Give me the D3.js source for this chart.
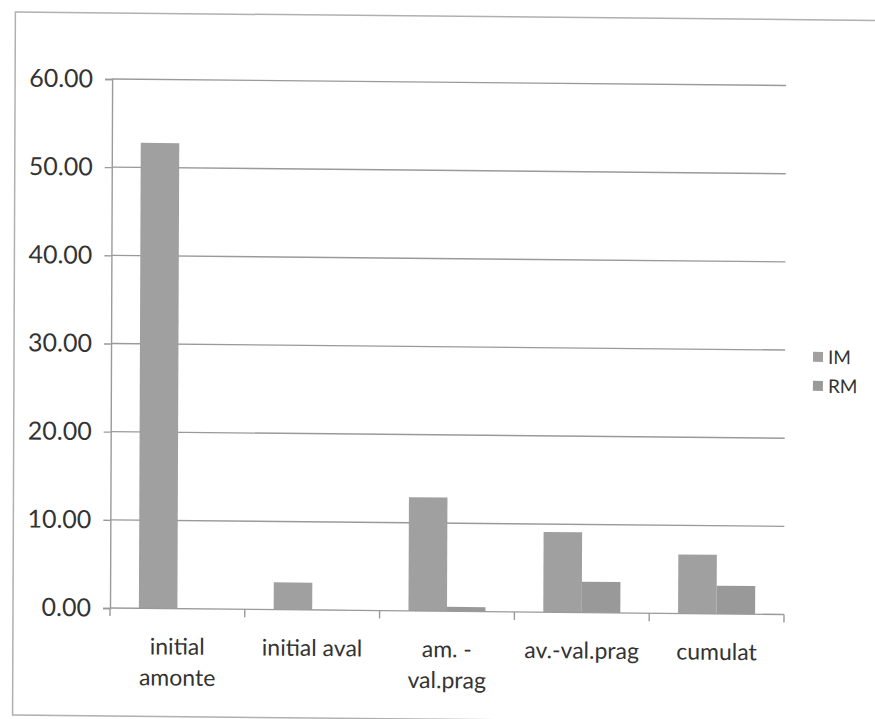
<!DOCTYPE html>
<html>
<head>
<meta charset="utf-8">
<script src="https://cdn.jsdelivr.net/npm/d3@7"></script>
<style>
  html, body { margin: 0; padding: 0; background: #fff; }
  svg { display: block; }
  text { font-family: Lato, "Open Sans", sans-serif; fill: #333; }
</style>
</head>
<body>
<svg id="chart" width="875" height="719"></svg>
<script>
// data
const categories = [["initial", "amonte"], ["initial aval"], ["am. -", "val.prag"], ["av.-val.prag"], ["cumulat"]];
const seriesNames = ["IM", "RM"];
const imValues = [52.8, 3.1, 12.9, 9.1, 6.7];
const rmValues = [0, 0.05, 0.5, 3.5, 3.2];
const yTicks = [0, 10, 20, 30, 40, 50, 60];

const colors = { IM: "#a0a0a0", RM: "#999999" };

const plotLeft = 110, plotRight = 784, plotTop = 79, plotBottom = 608;

const svg = d3.select("#chart");

// the scan is slightly skewed: right side lower, top leans right
const g = svg.append("g")
  .attr("transform", "translate(110,608) matrix(1,0.0097,-0.004,1,0,0) translate(-110,-608)");

// outer frame of the chart area
g.append("rect")
  .attr("x", 13).attr("y", 13)
  .attr("width", 880).attr("height", 703)
  .attr("fill", "none")
  .attr("stroke", "#b0b0b0")
  .attr("stroke-width", 1.5);

const x = d3.scaleBand()
  .domain(d3.range(categories.length))
  .range([plotLeft, plotRight])
  .paddingInner(1.5 / 3.5)
  .paddingOuter(0.75 / 3.5);

const xs = d3.scaleBand().domain(seriesNames).range([0, x.bandwidth()]);

const y = d3.scaleLinear().domain([0, 60]).range([plotBottom, plotTop]);

// gridlines
g.append("g").selectAll("line")
  .data(yTicks.filter(d => d > 0))
  .enter().append("line")
  .attr("x1", plotLeft).attr("x2", plotRight)
  .attr("y1", d => y(d)).attr("y2", d => y(d))
  .attr("stroke", "#9a9a9a")
  .attr("stroke-width", 1.4);

// y axis
const yAxis = g.append("g")
  .attr("transform", "translate(" + plotLeft + ",0)")
  .call(d3.axisLeft(y).tickValues(yTicks).tickFormat(d3.format(".2f")).tickSize(7).tickPadding(12));
yAxis.select(".domain").attr("stroke", "#9a9a9a").attr("stroke-width", 1.4);
yAxis.selectAll(".tick line").attr("stroke", "#9a9a9a").attr("stroke-width", 1.4);
yAxis.selectAll("text")
  .attr("font-size", 25)
  .attr("font-family", "Lato, sans-serif")
  .attr("fill", "#333");

// bars
const rows = categories.map((c, i) => ({ i, IM: imValues[i], RM: rmValues[i] }));
g.append("g").selectAll("g")
  .data(rows)
  .enter().append("g")
  .attr("transform", d => "translate(" + x(d.i) + ",0)")
  .selectAll("rect")
  .data(d => seriesNames.map(k => ({ key: k, value: d[k] })))
  .enter().append("rect")
  .attr("x", d => xs(d.key))
  .attr("width", xs.bandwidth())
  .attr("y", d => y(d.value))
  .attr("height", d => y(0) - y(d.value))
  .attr("fill", d => colors[d.key]);

// category axis
const step = x.step();
g.append("line")
  .attr("x1", plotLeft).attr("x2", plotRight)
  .attr("y1", y(0)).attr("y2", y(0))
  .attr("stroke", "#9a9a9a").attr("stroke-width", 1.4);
g.append("g").selectAll("line")
  .data(d3.range(categories.length + 1))
  .enter().append("line")
  .attr("x1", i => plotLeft + i * step).attr("x2", i => plotLeft + i * step)
  .attr("y1", y(0)).attr("y2", y(0) + 8)
  .attr("stroke", "#9a9a9a").attr("stroke-width", 1.4);

const labels = g.append("g").selectAll("text")
  .data(categories)
  .enter().append("text")
  .attr("text-anchor", "middle")
  .attr("font-size", 23)
  .attr("transform", (d, i) => "translate(" + (x(i) + x.bandwidth() / 2) + "," + 654 + ")");
labels.selectAll("tspan")
  .data(d => d)
  .enter().append("tspan")
  .attr("x", 0)
  .attr("dy", (d, j) => j === 0 ? 0 : 31)
  .text(d => d);

// legend
const legend = g.append("g").selectAll("g")
  .data(seriesNames)
  .enter().append("g")
  .attr("transform", (d, i) => "translate(812," + (345 + i * 29) + ")");
legend.append("rect")
  .attr("width", 10).attr("height", 10)
  .attr("fill", d => colors[d]);
legend.append("text")
  .attr("x", 15).attr("y", 12)
  .attr("font-size", 19)
  .attr("fill", "#222")
  .text(d => d);
</script>
</body>
</html>
